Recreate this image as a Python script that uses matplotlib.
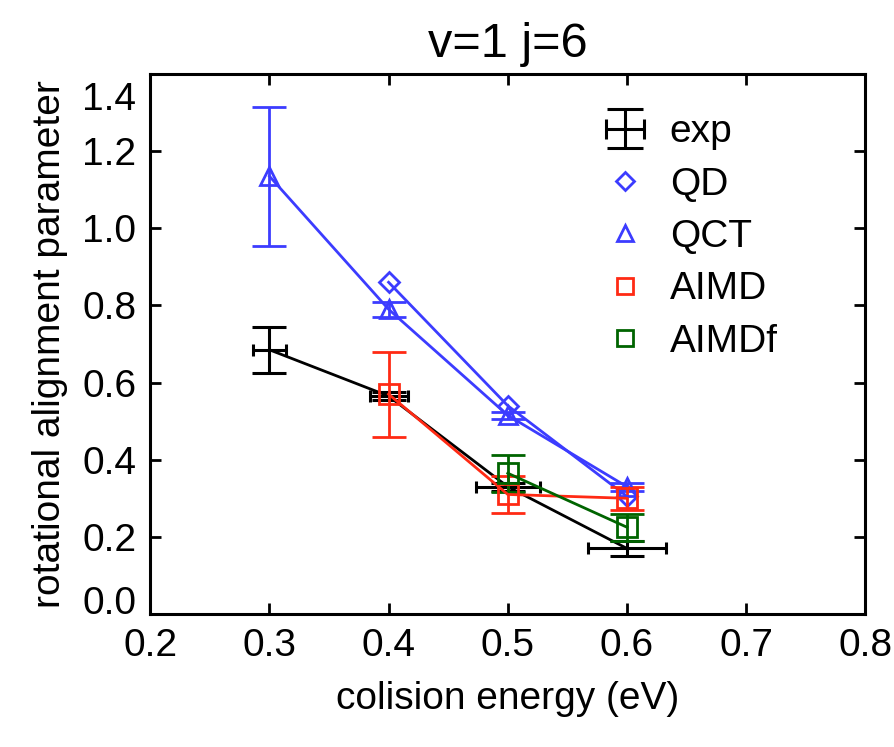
import matplotlib
matplotlib.use('Agg')
import matplotlib.pyplot as plt
import matplotlib.transforms as mtransforms
from matplotlib.legend_handler import HandlerTuple
import numpy as np

# data
energy = [0.3, 0.4, 0.5, 0.6]

exp_y = [0.685, 0.565, 0.33, 0.17]
exp_yerr = [0.06, 0.01, 0.01, 0.02]
exp_xerr = [0.014, 0.016, 0.027, 0.033]

qd_x = [0.4, 0.5, 0.6]
qd_y = [0.86, 0.54, 0.305]

qct_y = [1.135, 0.79, 0.515, 0.33]
qct_yerr = [0.18, 0.02, 0.01, 0.01]

aimd_x = [0.4, 0.5, 0.6]
aimd_y = [0.57, 0.31, 0.30]
aimd_yerr = [0.11, 0.047, 0.03]

aimdf_x = [0.5, 0.6]
aimdf_y = [0.365, 0.225]
aimdf_yerr = [0.048, 0.035]

blue = '#3c3cff'
red = '#ff2a14'
green = '#006400'

plt.rcParams['font.family'] = ['Liberation Sans', 'DejaVu Sans']
fs = 28

fig = plt.figure(figsize=(8.94, 7.47), dpi=100)
ax = fig.add_axes([0.168, 0.178, 0.800, 0.723])

# experiment: line + separate x / y error bars
ax.plot(energy, exp_y, color='black', lw=2)
ax.errorbar(energy, exp_y, yerr=exp_yerr, fmt='none', ecolor='black',
            elinewidth=2.2, capsize=12, capthick=2.2)
ax.errorbar(energy, exp_y, xerr=exp_xerr, fmt='none', ecolor='black',
            elinewidth=2.2, capsize=4.5, capthick=2.2)

ax.plot(qd_x, qd_y, color=blue, lw=2, marker='D', ms=10, mfc='none',
        mec=blue, mew=2)
ax.errorbar(energy, qct_y, yerr=qct_yerr, color=blue, lw=2, marker='^',
            ms=13, mfc='none', mec=blue, mew=2, elinewidth=2,
            capsize=12.5, capthick=2)
ax.errorbar(aimd_x, aimd_y, yerr=aimd_yerr, color=red, lw=2, marker='s',
            ms=14, mfc='none', mec=red, mew=2, elinewidth=2,
            capsize=12.5, capthick=2)
ax.errorbar(aimdf_x, aimdf_y, yerr=aimdf_yerr, color=green, lw=2,
            marker='s', ms=14, mfc='none', mec=green, mew=2,
            elinewidth=2, capsize=12.5, capthick=2)

# legend handles (markers only, exp as cross: wide y caps, short x caps)
h_exp_y = ax.errorbar([np.nan], [np.nan], yerr=[0.01], fmt='none',
                      ecolor='black', elinewidth=2.2, capsize=13, capthick=2.2)
h_exp_x = ax.errorbar([np.nan], [np.nan], xerr=[0.01], fmt='none',
                      ecolor='black', elinewidth=2.2, capsize=7, capthick=2.2)
h_qd, = ax.plot([], [], ls='none', marker='D', ms=9, mfc='none', mec=blue, mew=2)
h_qct, = ax.plot([], [], ls='none', marker='^', ms=11, mfc='none', mec=blue, mew=2)
h_aimd, = ax.plot([], [], ls='none', marker='s', ms=12, mfc='none', mec=red, mew=2)
h_aimdf, = ax.plot([], [], ls='none', marker='s', ms=12, mfc='none', mec=green, mew=2)
ax.legend([(h_exp_y, h_exp_x), h_qd, h_qct, h_aimd, h_aimdf],
          ['exp', 'QD', 'QCT', 'AIMD', 'AIMDf'],
          handler_map={tuple: HandlerTuple(ndivide=1)},
          loc='upper left', bbox_to_anchor=(0.585, 0.99), frameon=False,
          fontsize=fs, handlelength=1.1, handletextpad=0.6, labelspacing=0.42)

ax.set_xlim(0.2, 0.8)
ax.set_ylim(0.0, 1.4)
ax.set_xticks([0.2, 0.3, 0.4, 0.5, 0.6, 0.7, 0.8])
ax.set_yticks([0.0, 0.2, 0.4, 0.6, 0.8, 1.0, 1.2, 1.4])
ax.set_xticklabels(['0.2', '0.3', '0.4', '0.5', '0.6', '0.7', '0.8'])
ax.set_yticklabels(['0.0', '0.2', '0.4', '0.6', '0.8', '1.0', '1.2', '1.4'])
ax.tick_params(direction='in', length=8, width=2, top=True, right=True,
               labelsize=fs, pad=10)
for s in ax.spines.values():
    s.set_linewidth(2.2)

# end labels sit inside the frame, like the reference
ylabels = ax.get_yticklabels()
ylabels[0].set_transform(ylabels[0].get_transform() +
                         mtransforms.ScaledTranslation(0, 14 / 100, fig.dpi_scale_trans))
ylabels[-1].set_transform(ylabels[-1].get_transform() +
                          mtransforms.ScaledTranslation(0, -22 / 100, fig.dpi_scale_trans))

ax.set_xlabel('colision energy (eV)', fontsize=fs, labelpad=12)
ax.set_ylabel('rotational alignment parameter', fontsize=fs, labelpad=10)
ax.set_title('v=1 j=6', fontsize=35, pad=12)

plt.savefig('out.png', dpi=100)
plt.close()
